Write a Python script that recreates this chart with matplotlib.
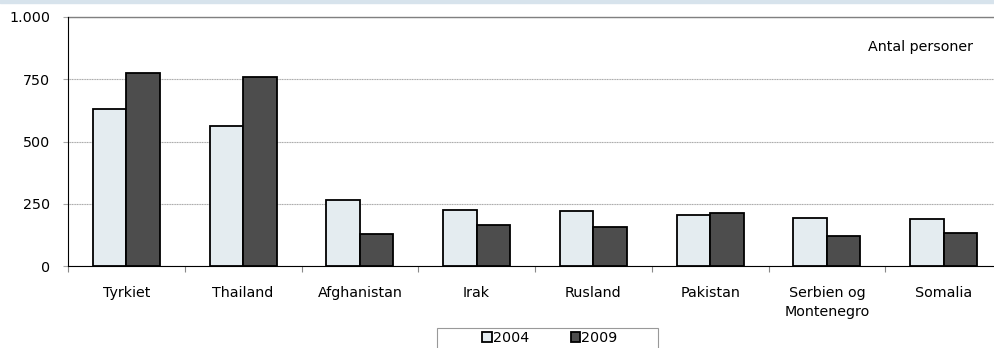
#!/usr/bin/env python

import matplotlib
matplotlib.use("Agg")
import matplotlib.pyplot as plt
from matplotlib.patches import Rectangle
import numpy as np

countries = ["Tyrkiet", "Thailand", "Afghanistan", "Irak", "Rusland",
             "Pakistan", "Serbien og\nMontenegro", "Somalia"]
v2004 = [630, 562, 265, 225, 222, 206, 194, 190]
v2009 = [775, 759, 128, 166, 158, 213, 122, 132]
years = ["2004", "2009"]
yticks = [0, 250, 500, 750, 1000]
ytick_labels = ["0", "250", "500", "750", "1.000"]


def main():
    plt.rcParams["font.family"] = ["DejaVu Sans"]
    fs = 10.3
    fig = plt.figure(figsize=(9.94, 3.48), dpi=100)
    W, H = 994, 348

    # light band across the top
    fig.patches.append(Rectangle((0, 1 - 3 / H), 1, 3 / H, transform=fig.transFigure,
                                 color="#d7e3ec", zorder=0))

    left, right, top, bottom = 68, 1002, 17, 266
    ax = fig.add_axes([left / W, 1 - bottom / H, (right - left) / W, (bottom - top) / H])

    x = np.arange(len(countries))
    bw = 0.286
    ax.bar(x - bw / 2, v2004, bw, color="#e4ecf0", edgecolor="black", linewidth=1.3,
           label=years[0], zorder=3)
    ax.bar(x + bw / 2, v2009, bw, color="#4d4d4d", edgecolor="black", linewidth=1.3,
           label=years[1], zorder=3)

    ax.set_xlim(-0.5, len(countries) - 0.5)
    ax.set_ylim(0, 1000)
    ax.set_yticks(yticks)
    ax.set_yticklabels(ytick_labels, fontsize=fs)
    ax.yaxis.grid(True, linestyle=(0, (1, 0.5)), color="#a8a8a8", linewidth=0.8)
    ax.axhline(1000, color="#808080", linewidth=1.0, zorder=2, clip_on=False)
    ax.set_axisbelow(True)

    ax.set_xticks(np.arange(len(countries) + 1) - 0.5)
    ax.set_xticklabels([])
    ax.set_xticks(x, minor=True)
    ax.set_xticklabels(countries, minor=True, fontsize=fs, linespacing=1.45)
    ax.tick_params(axis="x", which="major", length=4, color="#888888", direction="out")
    ax.tick_params(axis="x", which="minor", length=0, pad=14.5)
    ax.tick_params(axis="y", length=3.6, color="#a8a8a8", pad=9)

    for s in ["top", "right"]:
        ax.spines[s].set_visible(False)
    ax.spines["left"].set_color("black")
    ax.spines["bottom"].set_color("black")

    ax.text(973 / W, 1 - 47 / H, "Antal personer", transform=fig.transFigure,
            ha="right", va="center", fontsize=fs)

    # legend frame running off the bottom edge
    fig.patches.append(Rectangle((437 / W, -0.05), 221 / W, 0.05 + 20 / H,
                                 transform=fig.transFigure, fill=False,
                                 edgecolor="#999999", linewidth=0.8))
    fig.legend(loc="center", bbox_to_anchor=(550 / W, 1 - 338 / H), ncol=2,
               fontsize=fs, frameon=False, handlelength=0.65, handleheight=0.65,
               handletextpad=0.1, columnspacing=2.9, borderpad=0, borderaxespad=0)

    fig.savefig("out.png", dpi=100)


if __name__ == "__main__":
    main()
